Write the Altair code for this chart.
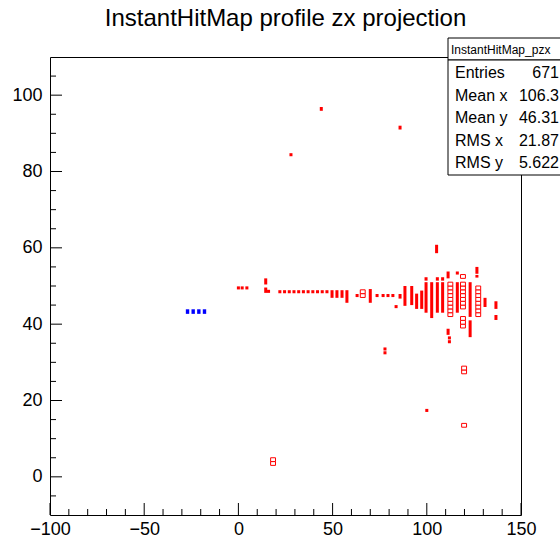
import altair as alt
import pandas as pd

W, H = 471, 458
XDOM = [-100, 150]
YDOM = [-10, 110]
FONT = "Liberation Sans"

# filled red cells / bars (bin centre x, low y, high y)
red_x = [44.0, 85.8, 27.9, 105.2, 77.8, 77.8, 100.0, 112.0, 112.0, 111.3,
         0.0, 2.0, 4.5, 14.5, 14.5, 16.0,
         22.0, 24.5, 27.0, 29.5, 32.0, 34.5, 37.0, 39.5, 42.0, 44.5, 47.0,
         49.7, 52.3, 55.0, 57.6, 63.0, 70.0,
         73.6, 76.8, 79.4, 82.0, 83.7, 85.8,
         88.4, 92.0, 94.6, 97.3,
         99.6, 99.6, 102.6, 105.6, 105.6, 108.4, 108.4, 111.3,
         116.2, 116.2, 123.0, 123.0, 126.6, 126.6, 130.9, 136.7, 136.7]
red_ylo = [95.9, 91.0, 84.0, 58.6, 33.1, 32.1, 17.0, 36.0, 35.0, 37.2,
           49.1, 49.1, 49.1, 50.4, 48.2, 48.2,
           48.1, 48.1, 48.1, 48.1, 48.1, 48.1, 48.1, 48.1, 48.1, 48.1, 48.1,
           46.9, 46.9, 46.9, 45.6, 47.1, 45.6,
           47.1, 47.1, 47.1, 47.1, 44.2, 46.7,
           44.8, 45.0, 44.0, 44.0,
           43.0, 51.4, 41.6, 43.0, 51.4, 43.0, 51.4, 52.0,
           43.0, 53.0, 41.9, 36.6, 53.2, 52.2, 44.5, 44.0, 41.1]
red_yhi = [96.9, 92.0, 84.8, 60.8, 33.9, 32.9, 17.8, 36.8, 35.8, 38.8,
           49.9, 49.9, 49.9, 52.0, 49.6, 49.0,
           48.9, 48.9, 48.9, 48.9, 48.9, 48.9, 48.9, 48.9, 48.9, 48.9, 48.9,
           48.9, 48.9, 48.9, 48.9, 47.9, 49.2,
           47.9, 47.9, 47.9, 47.9, 45.0, 47.9,
           50.0, 50.0, 48.0, 48.8,
           51.0, 52.3, 51.0, 51.0, 52.3, 51.0, 52.3, 53.8,
           51.0, 53.8, 51.0, 41.0, 55.0, 52.9, 46.9, 46.0, 42.4]

# hollow (larger content) red cells: centre x, centre y
hollow_x = [66.0, 66.0,
            112.5, 112.5, 112.5, 112.5, 112.5, 112.5, 112.5, 112.5, 112.5,
            119.2, 119.2, 119.2, 119.2, 119.2, 119.2, 119.2, 119.2, 119.2, 119.2, 119.2,
            127.3, 127.3, 127.3, 127.3, 127.3, 127.3, 127.3, 127.3,
            119.8, 119.8, 119.8, 18.4, 18.4]
hollow_y = [47.5, 48.5,
            42.5, 43.5, 44.5, 45.5, 46.5, 47.5, 48.5, 49.5, 50.5,
            44.5, 45.5, 46.5, 47.5, 48.5, 49.5, 50.5, 52.5, 39.5, 40.5, 41.5,
            42.5, 43.5, 44.5, 45.5, 46.5, 47.5, 48.5, 49.5,
            27.5, 28.5, 13.5, 3.5, 4.5]

# blue cells
blue_x = [-27.0, -24.0, -21.0, -18.0]
blue_y = [43.3, 43.3, 43.3, 43.3]

x_major = [-100, -50, 0, 50, 100, 150]
x_minor = [-90, -80, -70, -60, -40, -30, -20, -10, 10, 20, 30, 40,
           60, 70, 80, 90, 110, 120, 130, 140]
y_major = [0, 20, 40, 60, 80, 100]
y_minor = [-5, 5, 10, 15, 25, 30, 35, 45, 50, 55, 65, 70, 75, 85, 90, 95, 105]

stat_names = ["Entries", "Mean x", "Mean y", "RMS x", "RMS y"]
stat_values = ["671", "106.3", "46.31", "21.87", "5.622"]
stat_header = "InstantHitMap_pzx"

xs = alt.Scale(domain=XDOM, nice=False, zero=False)
ys = alt.Scale(domain=YDOM, nice=False, zero=False)
xaxis = alt.Axis(values=x_major, title=None, labelPadding=5, labelFontSize=18,
                 labelFont=FONT, labelColor="black", domain=False, ticks=False,
                 grid=False, labelFlush=False)
yaxis = alt.Axis(values=y_major, title=None, labelPadding=8, labelFontSize=18,
                 labelFont=FONT, labelColor="black", domain=False, ticks=False,
                 grid=False, labelFlush=False)

red_df = pd.DataFrame({"x": red_x, "ylo": red_ylo, "yhi": red_yhi})
hollow_df = pd.DataFrame({"x": hollow_x, "y": hollow_y})
blue_df = pd.DataFrame({"x": blue_x, "y": blue_y})

red = alt.Chart(red_df).transform_calculate(
    x1="datum.x - 0.8", x2="datum.x + 0.8"
).mark_rect(color="#ff0000").encode(
    x=alt.X("x1:Q", scale=xs, axis=xaxis), x2="x2:Q",
    y=alt.Y("ylo:Q", scale=ys, axis=yaxis), y2="yhi:Q",
)

hollow = alt.Chart(hollow_df).transform_calculate(
    x1="datum.x - 1.3", x2="datum.x + 1.3", y1="datum.y - 0.5", y2="datum.y + 0.5"
).mark_rect(fill="#ffffff", stroke="#ff0000", strokeWidth=1).encode(
    x=alt.X("x1:Q", scale=xs, axis=xaxis), x2="x2:Q",
    y=alt.Y("y1:Q", scale=ys, axis=yaxis), y2="y2:Q",
)

blue = alt.Chart(blue_df).transform_calculate(
    x1="datum.x - 0.9", x2="datum.x + 0.9", y1="datum.y - 0.6", y2="datum.y + 0.6"
).mark_rect(color="#0000ff").encode(
    x=alt.X("x1:Q", scale=xs, axis=xaxis), x2="x2:Q",
    y=alt.Y("y1:Q", scale=ys, axis=yaxis), y2="y2:Q",
)

def xticks(vals, length):
    return alt.Chart(pd.DataFrame({"v": vals})).mark_rule(color="black", strokeWidth=1).encode(
        x=alt.X("v:Q", scale=xs, axis=xaxis), y=alt.value(H), y2=alt.value(H - length))

def yticks(vals, length):
    return alt.Chart(pd.DataFrame({"v": vals})).mark_rule(color="black", strokeWidth=1).encode(
        y=alt.Y("v:Q", scale=ys, axis=yaxis), x=alt.value(0), x2=alt.value(length))

one = pd.DataFrame({"a": [0]})
header_box = alt.Chart(one).mark_rect(fill="white", stroke="black", strokeWidth=1).encode(
    x=alt.value(398), x2=alt.value(530), y=alt.value(-19), y2=alt.value(3))
main_box = alt.Chart(one).mark_rect(fill="white", stroke="black", strokeWidth=1).encode(
    x=alt.value(398), x2=alt.value(530), y=alt.value(3), y2=alt.value(118))
header_text = alt.Chart(pd.DataFrame({"t": [stat_header]})).mark_text(
    font=FONT, fontSize=12, align="left", baseline="middle", color="black"
).encode(text="t:N", x=alt.value(401), y=alt.value(-7))

stats_df = pd.DataFrame({"name": stat_names, "val": stat_values})
stats_base = alt.Chart(stats_df).transform_window(
    row="row_number()"
).transform_calculate(py="16 + (datum.row - 1) * 22.6")
stats_names = stats_base.mark_text(
    font=FONT, fontSize=16, align="left", baseline="middle", color="black"
).encode(text="name:N", x=alt.value(405), y=alt.Y("py:Q", scale=None, axis=None))
stats_vals = stats_base.mark_text(
    font=FONT, fontSize=16, align="right", baseline="middle", color="black"
).encode(text="val:N", x=alt.value(509), y=alt.Y("py:Q", scale=None, axis=None))

chart = alt.layer(
    red, hollow, blue,
    xticks(x_major, 12), xticks(x_minor, 6),
    yticks(y_major, 12), yticks(y_minor, 6),
    header_box, main_box, header_text, stats_names, stats_vals,
).properties(
    width=W, height=H,
    background="white",
    title=alt.TitleParams(text="InstantHitMap profile zx projection", font=FONT,
                          fontSize=24, fontWeight="normal", anchor="middle",
                          color="black", offset=10, dy=22, baseline="alphabetic",
                          frame="group"),
    autosize=alt.AutoSizeParams(type="none"),
    padding={"left": 50, "top": 57, "right": 39, "bottom": 23},
).configure_view(
    stroke="black", strokeWidth=1
)

chart.save("out.html", embed_options={"renderer": "svg", "actions": False})
